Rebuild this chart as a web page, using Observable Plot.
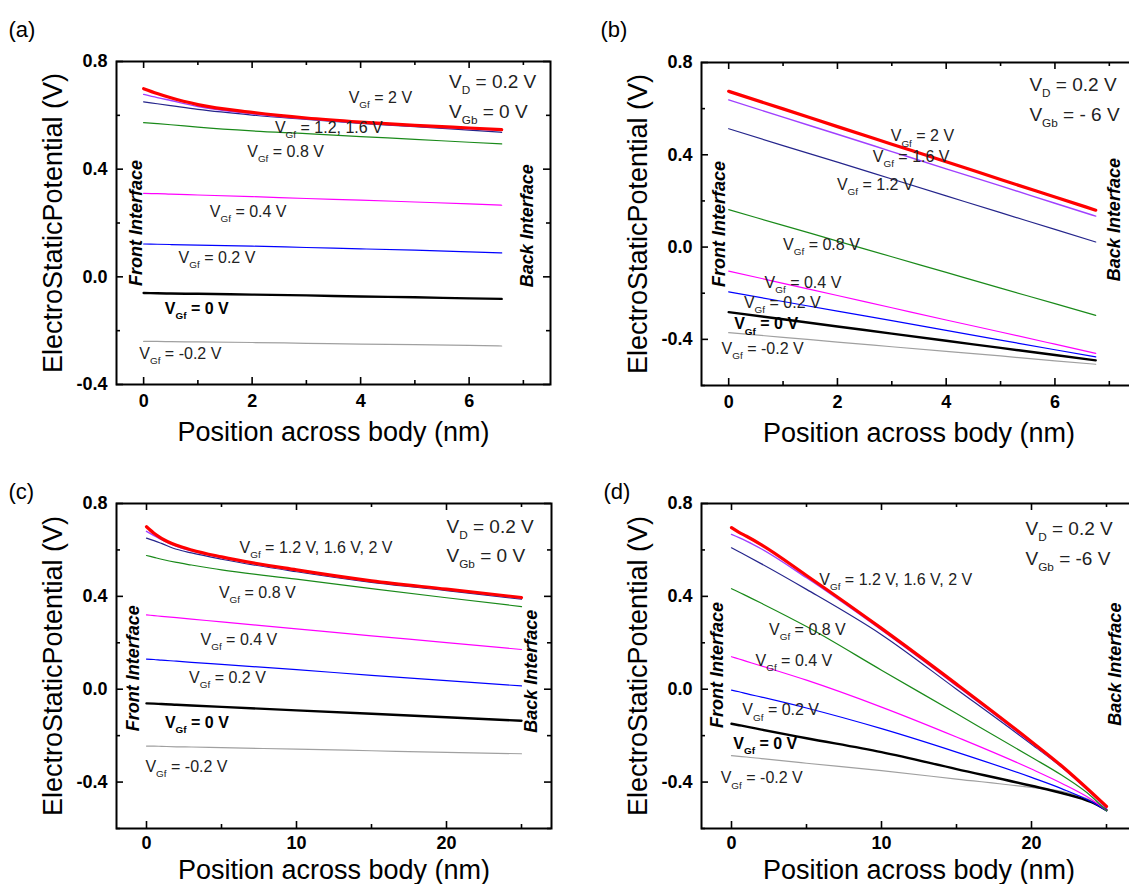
<!DOCTYPE html>
<html>
<head>
<meta charset="utf-8">
<script src="https://cdn.jsdelivr.net/npm/d3@7"></script>
<script src="https://cdn.jsdelivr.net/npm/@observablehq/plot@0.6"></script>
<style>
  html, body { margin: 0; padding: 0; background: #fff; }
  #fig { position: relative; width: 1129px; height: 884px; overflow: hidden; background: #fff; }
  #fig svg { position: absolute; }
</style>
</head>
<body>
<div id="fig"></div>
<script>
// ---------- Series (order: -0.2, 0, 0.2, 0.4, 0.8, 1.2, 1.6, 2 V) ----------
const seriesNames = ["-0.2 V", "0 V", "0.2 V", "0.4 V", "0.8 V", "1.2 V", "1.6 V", "2 V"];

// Panel (a): VD = 0.2 V, VGb = 0 V, thin body
const aPos = [0, 0.25, 0.5, 1, 2, 3, 4, 5, 6, 6.6];
const aPotential = [
  [-0.240, -0.240, -0.241, -0.242, -0.244, -0.247, -0.250, -0.252, -0.255, -0.257],
  [-0.060, -0.061, -0.062, -0.063, -0.066, -0.069, -0.073, -0.076, -0.080, -0.082],
  [0.122, 0.121, 0.120, 0.118, 0.114, 0.109, 0.104, 0.099, 0.093, 0.089],
  [0.310, 0.309, 0.307, 0.304, 0.298, 0.291, 0.285, 0.278, 0.271, 0.266],
  [0.573, 0.569, 0.565, 0.556, 0.542, 0.532, 0.521, 0.511, 0.500, 0.494],
  [0.650, 0.643, 0.636, 0.622, 0.601, 0.585, 0.570, 0.558, 0.545, 0.537],
  [0.678, 0.666, 0.655, 0.633, 0.606, 0.587, 0.572, 0.560, 0.550, 0.544],
  [0.699, 0.681, 0.665, 0.640, 0.611, 0.590, 0.575, 0.563, 0.553, 0.547]
];

// Panel (b): VD = 0.2 V, VGb = -6 V, thin body
const bPos = [0, 1, 2, 3, 4, 5, 6, 6.75];
const bPotential = [
  [-0.371, -0.391, -0.412, -0.432, -0.452, -0.472, -0.493, -0.508],
  [-0.282, -0.313, -0.344, -0.375, -0.406, -0.437, -0.468, -0.491],
  [-0.194, -0.236, -0.278, -0.319, -0.361, -0.403, -0.445, -0.476],
  [-0.104, -0.157, -0.210, -0.263, -0.316, -0.368, -0.421, -0.461],
  [0.162, 0.094, 0.026, -0.042, -0.110, -0.178, -0.245, -0.296],
  [0.513, 0.440, 0.368, 0.295, 0.222, 0.149, 0.077, 0.022],
  [0.638, 0.563, 0.489, 0.414, 0.339, 0.265, 0.190, 0.134],
  [0.675, 0.599, 0.522, 0.446, 0.370, 0.293, 0.217, 0.160]
];

// Panel (c): VD = 0.2 V, VGb = 0 V, thick body
const cPos = [0, 0.5, 1, 2, 3, 5, 10, 15, 20, 25];
const cPotential = [
  [-0.245, -0.245, -0.246, -0.248, -0.249, -0.252, -0.258, -0.265, -0.272, -0.278],
  [-0.061, -0.062, -0.064, -0.067, -0.070, -0.076, -0.091, -0.106, -0.121, -0.136],
  [0.130, 0.128, 0.125, 0.121, 0.116, 0.107, 0.084, 0.060, 0.037, 0.014],
  [0.320, 0.317, 0.314, 0.308, 0.302, 0.290, 0.260, 0.230, 0.201, 0.171],
  [0.576, 0.568, 0.560, 0.546, 0.535, 0.514, 0.474, 0.433, 0.394, 0.356],
  [0.651, 0.640, 0.628, 0.603, 0.587, 0.560, 0.506, 0.460, 0.425, 0.388],
  [0.680, 0.662, 0.644, 0.615, 0.596, 0.567, 0.511, 0.465, 0.429, 0.392],
  [0.700, 0.672, 0.650, 0.620, 0.600, 0.570, 0.514, 0.467, 0.431, 0.395]
];

// Panel (d): VD = 0.2 V, VGb = -6 V, thick body
const dPos = [0, 0.5, 1, 2, 5, 10, 15, 20, 22, 24, 25];
const dPotential = [
  [-0.286, -0.289, -0.292, -0.299, -0.319, -0.351, -0.387, -0.423, -0.440, -0.480, -0.517],
  [-0.149, -0.155, -0.161, -0.174, -0.211, -0.271, -0.344, -0.416, -0.447, -0.487, -0.521],
  [-0.004, -0.011, -0.019, -0.034, -0.081, -0.170, -0.271, -0.380, -0.428, -0.485, -0.524],
  [0.140, 0.130, 0.120, 0.100, 0.039, -0.077, -0.206, -0.344, -0.405, -0.475, -0.521],
  [0.433, 0.418, 0.402, 0.370, 0.270, 0.082, -0.105, -0.293, -0.370, -0.462, -0.524],
  [0.609, 0.592, 0.575, 0.540, 0.430, 0.235, 0.000, -0.237, -0.335, -0.447, -0.515],
  [0.667, 0.653, 0.638, 0.604, 0.480, 0.255, 0.015, -0.232, -0.335, -0.450, -0.512],
  [0.696, 0.676, 0.659, 0.622, 0.490, 0.262, 0.022, -0.226, -0.330, -0.445, -0.505]
];

// Tick values
const thinXMajor = [0, 2, 4, 6];
const thinXMinor = [1, 3, 5, 7];
const thickXMajor = [0, 10, 20];
const thickXMinor = [5, 15, 25];
const yMajor = [-0.4, 0, 0.4, 0.8];
const yMinor = [-0.6, -0.2, 0.2, 0.6];

// Curve labels (text)
const aLabels = ["V_{Gf} = 2 V", "V_{Gf} = 1.2, 1.6 V", "V_{Gf} = 0.8 V", "V_{Gf} = 0.4 V", "V_{Gf} = 0.2 V", "V_{Gf} = 0 V", "V_{Gf} = -0.2 V"];
const bLabels = ["V_{Gf} = 2 V", "V_{Gf} = 1.6 V", "V_{Gf} = 1.2 V", "V_{Gf} = 0.8 V", "V_{Gf} = 0.4 V", "V_{Gf} = 0.2 V", "V_{Gf} = 0 V", "V_{Gf} = -0.2 V"];
const cLabels = ["V_{Gf} = 1.2 V, 1.6 V, 2 V", "V_{Gf} = 0.8 V", "V_{Gf} = 0.4 V", "V_{Gf} = 0.2 V", "V_{Gf} = 0 V", "V_{Gf} = -0.2 V"];
const dLabels = ["V_{Gf} = 1.2 V, 1.6 V, 2 V", "V_{Gf} = 0.8 V", "V_{Gf} = 0.4 V", "V_{Gf} = 0.2 V", "V_{Gf} = 0 V", "V_{Gf} = -0.2 V"];
const aBias = ["V_{D} = 0.2 V", "V_{Gb} = 0 V"];
const bBias = ["V_{D} = 0.2 V", "V_{Gb} = - 6 V"];
const cBias = ["V_{D} = 0.2 V", "V_{Gb} = 0 V"];
const dBias = ["V_{D} = 0.2 V", "V_{Gb} = -6 V"];
const xTitle = "Position across body (nm)";
const yTitle = "ElectroStaticPotential (V)";

// ---------- Styles ----------
const seriesColors = ["#a0a0a0", "#000000", "#0000ff", "#ff00ff", "#1a8a1a", "#25258c", "#a040ff", "#ff0000"];
const seriesWidths = [1.2, 2.4, 1.2, 1.2, 1.2, 1.2, 1.4, 3.2];
const FONT = "Arial, 'Liberation Sans', Helvetica, sans-serif";

// label anchors [x, y] in data units
const panels = [
  {
    tag: "(a)", pos: aPos, pot: aPotential, xDomain: [-0.5, 7.5], yDomain: [-0.4, 0.8],
    xMajor: thinXMajor, xMinor: thinXMinor,
    left: 0, top: 0, width: 564, height: 442, ml: 116, mr: 14, mt: 61, mb: 58,
    labels: aLabels,
    labelAt: [[3.78, 0.666], [2.42, 0.552], [1.91, 0.466], [1.22, 0.242], [0.645, 0.07], [0.39, -0.118], [-0.08, -0.287]],
    bias: aBias, biasAt: [[5.63, 0.726], [5.63, 0.613]],
    frontAt: [-0.13, 0.2], backAt: [7.07, 0.19],
    tagDx: -108, tagDy: -32, xTitleDy: 48, tickPad: 10
  },
  {
    tag: "(b)", pos: bPos, pot: bPotential, xDomain: [-0.5, 7.5], yDomain: [-0.6, 0.8],
    xMajor: thinXMajor, xMinor: thinXMinor,
    left: 565, top: 0, width: 580, height: 442, ml: 136, mr: 9, mt: 62, mb: 57,
    labels: bLabels,
    labelAt: [[2.98, 0.48], [2.65, 0.393], [1.99, 0.27], [1.0, 0.011], [0.66, -0.155], [0.28, -0.241], [0.1, -0.335], [-0.13, -0.44]],
    bias: bBias, biasAt: [[5.53, 0.703], [5.53, 0.574]],
    frontAt: [-0.17, 0.1], backAt: [7.09, 0.119],
    tagDx: -101, tagDy: -33, xTitleDy: 48, tickPad: 10
  },
  {
    tag: "(c)", pos: cPos, pot: cPotential, xDomain: [-2, 27], yDomain: [-0.6, 0.8],
    xMajor: thickXMajor, xMinor: thickXMinor,
    left: 0, top: 442, width: 564, height: 442, ml: 116, mr: 13, mt: 61, mb: 56,
    labels: cLabels,
    labelAt: [[6.2, 0.608], [4.83, 0.414], [3.6, 0.214], [2.84, 0.05], [1.23, -0.145], [-0.07, -0.336]],
    bias: cBias, biasAt: [[20, 0.7], [20, 0.573]],
    frontAt: [-0.9, 0.09], backAt: [25.64, 0.077],
    tagDx: -108, tagDy: -12, xTitleDy: 42, tickPad: 8
  },
  {
    tag: "(d)", pos: dPos, pot: dPotential, xDomain: [-2, 27], yDomain: [-0.6, 0.8],
    xMajor: thickXMajor, xMinor: thickXMinor,
    left: 565, top: 442, width: 580, height: 442, ml: 136, mr: 9, mt: 61, mb: 56,
    labels: dLabels,
    labelAt: [[5.85, 0.472], [2.5, 0.256], [1.6, 0.123], [0.72, -0.091], [0.12, -0.235], [-0.72, -0.384]],
    bias: dBias, biasAt: [[19.6, 0.692], [19.6, 0.562]],
    frontAt: [-0.96, 0.104], backAt: [25.57, 0.108],
    tagDx: -98, tagDy: -12, xTitleDy: 42, tickPad: 8
  }
];

function subscriptify(svg) {
  const NS = "http://www.w3.org/2000/svg";
  for (const t of svg.querySelectorAll("text")) {
    const s = t.textContent;
    if (!s.includes("_{")) continue;
    const holder = t.closest("[font-size]");
    const F = holder ? parseFloat(holder.getAttribute("font-size")) : 14;
    const subSize = F * 0.62, shift = F * 0.32;
    while (t.firstChild) t.removeChild(t.firstChild);
    let pending = 0;
    for (const p of s.split(/(_\{[^}]*\})/)) {
      if (!p) continue;
      const ts = document.createElementNS(NS, "tspan");
      if (p.startsWith("_{")) {
        ts.textContent = p.slice(2, -1);
        ts.setAttribute("font-size", subSize);
        ts.setAttribute("dy", shift);
        pending = shift;
      } else {
        ts.textContent = p;
        if (pending) { ts.setAttribute("dy", -pending); pending = 0; }
      }
      t.appendChild(ts);
    }
  }
}

const fig = document.getElementById("fig");

for (const P of panels) {
  const innerW = P.width - P.ml - P.mr;
  const innerH = P.height - P.mt - P.mb;
  const inY = v => v >= P.yDomain[0] && v <= P.yDomain[1];
  const inX = v => v >= P.xDomain[0] && v <= P.xDomain[1];
  const marks = [];

  // curves
  P.pot.forEach((ys, i) => {
    const rows = P.pos.map((x, j) => ({x, y: ys[j], s: seriesNames[i]}));
    marks.push(Plot.line(rows, {x: "x", y: "y", stroke: seriesColors[i], strokeWidth: seriesWidths[i], curve: "monotone-x"}));
  });

  // inward ticks on all four sides
  const tk = {stroke: "#000", strokeWidth: 1.6};
  const xMaj = P.xMajor.filter(inX), xMin = P.xMinor.filter(inX);
  const yMaj = yMajor.filter(inY), yMin = yMinor.filter(inY);
  marks.push(
    Plot.tickX(xMaj, {x: d => d, insetTop: innerH - 7, ...tk}),
    Plot.tickX(xMaj, {x: d => d, insetBottom: innerH - 7, ...tk}),
    Plot.tickX(xMin, {x: d => d, insetTop: innerH - 4, ...tk}),
    Plot.tickX(xMin, {x: d => d, insetBottom: innerH - 4, ...tk}),
    Plot.tickY(yMaj, {y: d => d, insetRight: innerW - 7, ...tk}),
    Plot.tickY(yMaj, {y: d => d, insetLeft: innerW - 7, ...tk}),
    Plot.tickY(yMin, {y: d => d, insetRight: innerW - 4, ...tk}),
    Plot.tickY(yMin, {y: d => d, insetLeft: innerW - 4, ...tk})
  );

  // frame
  marks.push(Plot.frame({stroke: "#000", strokeWidth: 2}));

  // tick labels
  marks.push(
    Plot.axisX(xMaj, {tickSize: 0, tickPadding: P.tickPad, tickFormat: d => String(d), fontSize: 18, fontWeight: "bold", label: null, fill: "#000"}),
    Plot.axisY(yMaj, {tickSize: 0, tickPadding: 9, tickFormat: d => d.toFixed(1), fontSize: 18, fontWeight: "bold", label: null, fill: "#000"})
  );

  // axis titles
  marks.push(
    Plot.text([xTitle], {text: d => d, frameAnchor: "bottom", dy: P.xTitleDy, fontSize: 27, textAnchor: "middle", lineAnchor: "middle", fill: "#000"}),
    Plot.text([yTitle], {text: d => d, frameAnchor: "left", dx: -63, rotate: -90, fontSize: 27, textAnchor: "middle", lineAnchor: "middle", fill: "#000"})
  );

  // panel tag
  marks.push(Plot.text([P.tag], {text: d => d, frameAnchor: "top-left", dx: P.tagDx, dy: P.tagDy, textAnchor: "start", lineAnchor: "middle", fontSize: 22, fill: "#000"}));

  // curve labels
  const lab = P.labels.map((t, i) => ({t, x: P.labelAt[i][0], y: P.labelAt[i][1], bold: t === "V_{Gf} = 0 V"}));
  marks.push(
    Plot.text(lab.filter(d => !d.bold), {x: "x", y: "y", text: "t", textAnchor: "start", lineAnchor: "middle", fontSize: 16, fill: "#222"}),
    Plot.text(lab.filter(d => d.bold), {x: "x", y: "y", text: "t", textAnchor: "start", lineAnchor: "middle", fontSize: 16, fontWeight: "bold", fill: "#000"})
  );

  // bias labels
  const bias = P.bias.map((t, i) => ({t, x: P.biasAt[i][0], y: P.biasAt[i][1]}));
  marks.push(Plot.text(bias, {x: "x", y: "y", text: "t", textAnchor: "start", lineAnchor: "middle", fontSize: 19, fill: "#222"}));

  // interface labels
  marks.push(
    Plot.text([{t: "Front Interface", x: P.frontAt[0], y: P.frontAt[1]}], {x: "x", y: "y", text: "t", rotate: -90, textAnchor: "middle", fontSize: 18, fontWeight: "bold", fontStyle: "italic", fill: "#000"}),
    Plot.text([{t: "Back Interface", x: P.backAt[0], y: P.backAt[1]}], {x: "x", y: "y", text: "t", rotate: -90, textAnchor: "middle", fontSize: 18, fontWeight: "bold", fontStyle: "italic", fill: "#000"})
  );

  const svg = Plot.plot({
    width: P.width,
    height: P.height,
    marginLeft: P.ml,
    marginRight: P.mr,
    marginTop: P.mt,
    marginBottom: P.mb,
    x: {domain: P.xDomain},
    y: {domain: P.yDomain},
    style: {fontFamily: FONT, background: "transparent", overflow: "visible", color: "#000"},
    marks
  });
  subscriptify(svg);
  svg.style.left = P.left + "px";
  svg.style.top = P.top + "px";
  fig.appendChild(svg);
}
</script>
</body>
</html>
